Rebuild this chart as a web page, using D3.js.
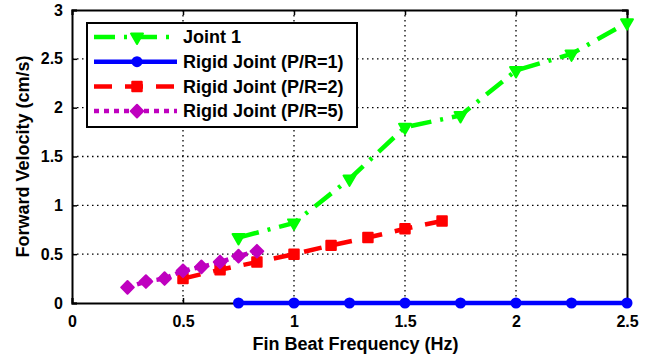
<!DOCTYPE html>
<html>
<head>
<meta charset="utf-8">
<script src="https://cdn.jsdelivr.net/npm/d3@7"></script>
<style>
  body { margin: 0; background: #fff; }
  svg { font-family: Arial, "Liberation Sans", sans-serif; font-weight: bold; }
</style>
</head>
<body>
<script>
// data
var joint1X = [0.75, 1, 1.25, 1.5, 1.75, 2, 2.25, 2.5],
    joint1Y = [0.67, 0.82, 1.27, 1.80, 1.92, 2.38, 2.55, 2.87];
var rigid1X = [0.75, 1, 1.25, 1.5, 1.75, 2, 2.25, 2.5],
    rigid1Y = [0, 0, 0, 0, 0, 0, 0, 0];
var rigid2X = [0.5, 0.667, 0.833, 1, 1.167, 1.333, 1.5, 1.667],
    rigid2Y = [0.25, 0.34, 0.42, 0.50, 0.59, 0.67, 0.76, 0.84];
var rigid5X = [0.25, 0.333, 0.417, 0.5, 0.583, 0.667, 0.75, 0.833],
    rigid5Y = [0.16, 0.22, 0.25, 0.33, 0.37, 0.42, 0.48, 0.53];
var xTicks = [0, 0.5, 1, 1.5, 2, 2.5],
    yTicks = [0, 0.5, 1, 1.5, 2, 2.5, 3];

var w = 655, h = 358;
var margin = {top: 10, right: 28, bottom: 55, left: 72},
    width = w - margin.left - margin.right,
    height = h - margin.top - margin.bottom;

var series = [
  {name: "Joint 1", x: joint1X, y: joint1Y, color: "#00ff00", dash: "21,9,3,9", marker: "tri"},
  {name: "Rigid Joint (P/R=1)", x: rigid1X, y: rigid1Y, color: "#0000ff", dash: null, marker: "circle"},
  {name: "Rigid Joint (P/R=2)", x: rigid2X, y: rigid2Y, color: "#ff0000", dash: "18,13", marker: "square"},
  {name: "Rigid Joint (P/R=5)", x: rigid5X, y: rigid5Y, color: "#bf00bf", dash: "5,5", marker: "diamond"}
];

var svg = d3.select("body").append("svg")
    .attr("width", w)
    .attr("height", h);
var g = svg.append("g")
    .attr("transform", "translate(" + margin.left + "," + margin.top + ")");

var xScale = d3.scaleLinear().domain([0, 2.5]).range([0, width]);
var yScale = d3.scaleLinear().domain([0, 3]).range([height, 0]);

// grid
g.selectAll(".gx").data(xTicks.slice(1, -1)).enter().append("line")
    .attr("x1", function(d) { return xScale(d); })
    .attr("x2", function(d) { return xScale(d); })
    .attr("y1", 0).attr("y2", height)
    .attr("stroke", "#000").attr("stroke-width", 1.3)
    .attr("stroke-dasharray", "1.5,3.5");
g.selectAll(".gy").data(yTicks.slice(1, -1)).enter().append("line")
    .attr("y1", function(d) { return yScale(d); })
    .attr("y2", function(d) { return yScale(d); })
    .attr("x1", 0).attr("x2", width)
    .attr("stroke", "#000").attr("stroke-width", 1.3)
    .attr("stroke-dasharray", "1.5,3.5");

// axes with inward ticks
g.append("g").attr("transform", "translate(0," + height + ")")
    .call(d3.axisBottom(xScale).tickValues(xTicks).tickSize(-5).tickPadding(13).tickFormat(d3.format("")));
g.append("g")
    .call(d3.axisLeft(yScale).tickValues(yTicks).tickSize(-5).tickPadding(9).tickFormat(d3.format("")));
g.append("g")
    .call(d3.axisTop(xScale).tickValues(xTicks).tickSize(-5).tickFormat(""));
g.append("g").attr("transform", "translate(" + width + ",0)")
    .call(d3.axisRight(yScale).tickValues(yTicks).tickSize(-5).tickFormat(""));
g.selectAll(".domain").attr("stroke", "#000").attr("stroke-width", 2);
g.selectAll(".tick line").attr("stroke", "#000").attr("stroke-width", 1.5);
g.selectAll(".tick text").attr("font-size", 16).attr("font-weight", "bold")
    .attr("font-family", "Arial, 'Liberation Sans', sans-serif").attr("fill", "#000");

// series lines
var line = d3.line()
    .x(function(d) { return xScale(d[0]); })
    .y(function(d) { return yScale(d[1]); });

var squareDiamond = {
  draw: function(ctx, size) {
    var r = Math.sqrt(size / 2);
    ctx.moveTo(0, -r); ctx.lineTo(r, 0); ctx.lineTo(0, r); ctx.lineTo(-r, 0); ctx.closePath();
  }
};
var downTri = {
  draw: function(ctx, size) {
    var s = Math.sqrt(size * 4 / Math.sqrt(3)), hh = s * Math.sqrt(3) / 2;
    ctx.moveTo(-s / 2, -hh / 3); ctx.lineTo(s / 2, -hh / 3); ctx.lineTo(0, hh * 2 / 3); ctx.closePath();
  }
};
var sym = {
  tri: d3.symbol().type(downTri).size(62),
  circle: d3.symbol().type(d3.symbolCircle).size(64),
  square: d3.symbol().type(d3.symbolSquare).size(90),
  diamond: d3.symbol().type(squareDiamond).size(80)
};

function drawMarker(sel, s) {
  sel.append("path")
      .attr("d", sym[s.marker]())
      .attr("fill", s.color)
      .attr("stroke", s.color)
      .attr("stroke-width", 2)
      .attr("stroke-linejoin", "round");
}

series.forEach(function(s) {
  var pts = s.x.map(function(x, i) { return [x, s.y[i]]; });
  g.append("path")
      .attr("d", line(pts))
      .attr("fill", "none")
      .attr("stroke", s.color)
      .attr("stroke-width", 4.5)
      .attr("stroke-dasharray", s.dash);
  g.selectAll(null).data(pts).enter().append("g")
      .attr("transform", function(d) { return "translate(" + xScale(d[0]) + "," + yScale(d[1]) + ")"; })
      .each(function() { drawMarker(d3.select(this), s); });
});

// axis labels
svg.append("text")
    .attr("x", margin.left + width / 2 + 6).attr("y", 350)
    .attr("text-anchor", "middle").attr("font-size", 18)
    .text("Fin Beat Frequency (Hz)");
svg.append("text")
    .attr("transform", "translate(29," + (margin.top + height / 2) + ") rotate(-90)")
    .attr("text-anchor", "middle").attr("font-size", 18)
    .text("Forward Velocity (cm/s)");

// legend
var legend = svg.append("g").attr("transform", "translate(87,23)");
legend.append("rect").attr("width", 270).attr("height", 104)
    .attr("fill", "#fff").attr("stroke", "#000").attr("stroke-width", 2);
var item = legend.selectAll(".legend").data(series).enter().append("g")
    .attr("transform", function(d, i) { return "translate(0," + (14 + i * 24.7) + ")"; });
item.append("line")
    .attr("x1", 7).attr("x2", 90)
    .attr("stroke", function(d) { return d.color; })
    .attr("stroke-width", 4.5)
    .attr("stroke-dasharray", function(d) { return d.dash; });
item.append("g").attr("transform", "translate(50,0)")
    .each(function(d) { drawMarker(d3.select(this), d); });
item.append("text")
    .attr("x", 96).attr("dy", "0.35em")
    .attr("font-size", 18)
    .text(function(d) { return d.name; });
</script>
</body>
</html>
